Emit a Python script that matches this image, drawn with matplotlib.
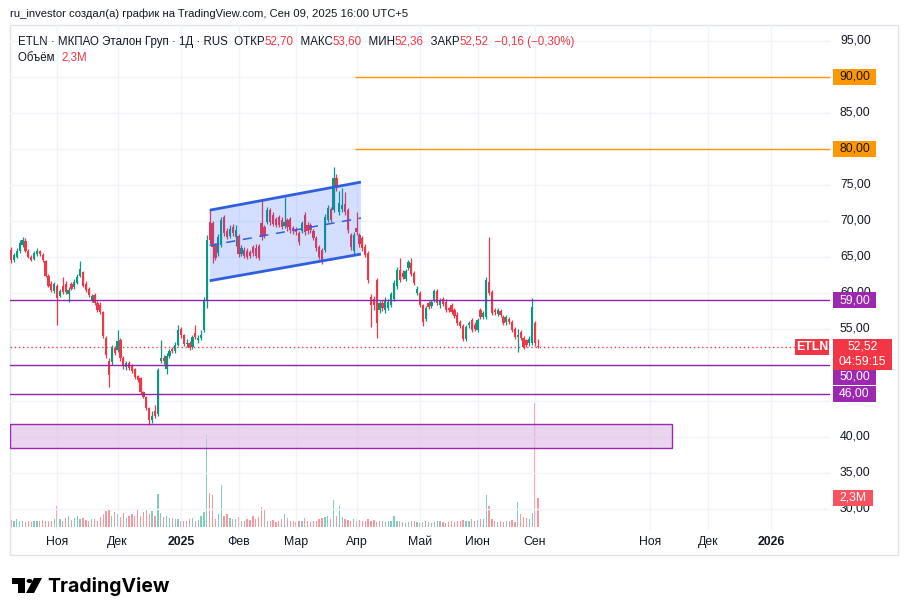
import matplotlib
matplotlib.use("Agg")
import matplotlib.pyplot as plt
from matplotlib.patches import Rectangle, Polygon, Circle
from matplotlib.transforms import blended_transform_factory
import numpy as np

plt.rcParams["font.family"] = ["Liberation Sans", "DejaVu Sans"]

# ETLN daily bars (Oct 2024 - Sep 2025)
opens = [
    66.0, 64.6, 65.0, 65.8, 66.6, 67.2, 65.9, 65.0, 64.7, 65.4,
    65.8, 65.3, 64.5, 62.4, 61.2, 60.3, 61.0, 59.6, 61.0, 61.3,
    59.9, 61.2, 60.8, 61.4, 62.4, 62.9, 61.2, 60.5, 59.0, 59.7,
    58.6, 58.3, 57.3, 53.8, 50.6, 50.4, 52.4, 52.1, 53.5, 51.0,
    49.7, 50.3, 49.9, 49.4, 48.4, 48.2, 46.2, 45.6, 44.0, 42.4,
    43.6, 43.2, 50.6, 51.0, 49.5, 51.3, 52.2, 51.9, 52.8, 55.0,
    54.1, 52.9, 53.0, 52.5, 54.4, 53.4, 53.8, 54.8, 59.0, 69.9,
    69.7, 66.6, 65.6, 66.7, 70.6, 68.6, 67.9, 69.2, 67.8, 67.9,
    65.4, 66.0, 65.9, 65.7, 66.4, 66.2, 66.5, 69.7, 69.2, 69.9,
    71.5, 70.9, 70.3, 70.6, 70.1, 69.3, 70.1, 70.3, 69.0, 68.9,
    68.4, 68.6, 70.8, 69.5, 69.4, 68.6, 67.6, 66.4, 66.0, 66.0,
    70.1, 71.6, 71.5, 76.0, 71.3, 71.6, 72.3, 71.5, 68.0, 65.8,
    69.0, 68.0, 67.6, 66.4, 65.6, 59.4, 59.2, 61.8, 57.6, 58.6,
    57.6, 57.9, 58.3, 59.2, 60.9, 63.2, 62.8, 62.0, 63.5, 64.2,
    62.8, 60.0, 60.0, 58.3, 56.4, 58.6, 58.2, 59.0, 60.3, 58.3,
    59.1, 58.8, 57.9, 58.3, 57.6, 57.0, 56.0, 55.4, 53.6, 55.5,
    56.2, 55.6, 54.9, 57.6, 56.7, 56.7, 61.5, 60.1, 57.6, 57.1,
    57.5, 56.7, 55.9, 56.4, 55.9, 55.0, 53.9, 54.6, 53.7, 53.4,
    53.0, 53.0, 55.8, 52.70,
]
highs = [
    66.4, 65.6, 66.2, 67.4, 67.8, 67.6, 66.1, 65.3, 65.9, 66.2,
    66.0, 65.5, 64.6, 62.6, 61.6, 61.5, 61.2, 60.6, 62.2, 61.6,
    60.8, 61.5, 62.0, 62.6, 64.4, 63.1, 61.6, 60.8, 59.9, 60.0,
    58.9, 58.7, 57.5, 54.0, 50.9, 52.8, 52.7, 54.9, 53.8, 51.3,
    50.6, 50.5, 50.1, 49.6, 48.6, 48.3, 46.4, 45.7, 44.2, 43.6,
    44.5, 49.6, 53.5, 51.4, 51.6, 52.2, 52.5, 53.2, 55.5, 55.3,
    54.3, 53.6, 53.3, 54.2, 55.6, 54.1, 54.9, 59.4, 68.0, 71.5,
    70.0, 67.0, 68.2, 70.6, 70.8, 69.0, 69.4, 69.6, 69.5, 68.2,
    66.6, 66.4, 66.3, 66.0, 66.7, 66.8, 66.8, 72.9, 69.5, 72.0,
    71.8, 71.2, 70.6, 70.9, 70.5, 73.3, 70.4, 70.6, 69.3, 69.2,
    68.6, 70.0, 71.2, 69.8, 69.7, 68.9, 67.9, 66.7, 66.2, 71.0,
    72.2, 71.9, 77.5, 76.5, 74.2, 74.6, 74.0, 71.8, 68.3, 68.5,
    71.2, 68.3, 67.9, 66.8, 65.9, 59.8, 59.6, 62.1, 58.9, 59.0,
    59.4, 59.1, 60.2, 61.8, 63.6, 64.9, 63.2, 63.4, 64.6, 64.9,
    63.1, 61.0, 60.3, 58.5, 58.2, 58.9, 59.0, 60.6, 60.6, 59.3,
    59.4, 59.1, 58.1, 58.6, 57.9, 57.3, 56.3, 55.7, 55.6, 56.1,
    56.5, 55.9, 56.5, 57.9, 57.5, 62.2, 67.8, 60.4, 57.9, 57.9,
    57.8, 57.0, 56.9, 56.7, 56.2, 55.3, 55.0, 54.9, 54.0, 53.6,
    54.0, 59.3, 56.1, 53.60,
]
lows = [
    64.2, 64.3, 64.8, 65.6, 66.4, 65.7, 64.8, 64.5, 64.6, 65.2,
    65.1, 64.3, 62.2, 60.8, 60.1, 60.0, 55.6, 59.4, 59.9, 59.8,
    58.8, 60.4, 60.6, 61.2, 62.2, 60.8, 60.1, 59.4, 58.7, 58.3,
    57.3, 57.1, 53.8, 51.0, 47.0, 50.0, 51.4, 51.8, 50.6, 49.5,
    49.3, 49.3, 48.9, 48.0, 47.6, 46.0, 45.4, 43.8, 41.7, 42.0,
    42.6, 42.9, 50.3, 50.1, 48.8, 51.0, 51.6, 51.7, 52.6, 53.8,
    52.6, 52.5, 52.1, 52.2, 53.6, 53.0, 53.4, 54.6, 57.9, 66.8,
    64.2, 64.6, 65.2, 66.4, 67.9, 67.5, 67.6, 67.9, 66.5, 65.0,
    65.1, 64.9, 64.7, 64.9, 65.2, 64.8, 64.6, 67.4, 67.6, 69.6,
    69.5, 69.3, 69.2, 69.1, 68.9, 69.0, 68.6, 68.4, 68.2, 68.1,
    66.7, 68.3, 68.1, 68.2, 68.3, 67.3, 65.9, 64.7, 64.0, 65.7,
    69.8, 69.8, 71.2, 74.2, 70.9, 71.2, 70.9, 68.4, 66.0, 65.4,
    68.0, 66.4, 65.8, 65.0, 61.4, 55.3, 57.6, 53.8, 57.2, 57.5,
    57.2, 57.6, 58.0, 58.9, 60.6, 61.5, 61.9, 61.7, 63.2, 62.3,
    61.1, 59.7, 58.0, 55.4, 56.1, 57.8, 57.9, 58.8, 58.3, 57.9,
    58.2, 57.3, 57.4, 57.1, 56.5, 55.5, 55.1, 53.3, 53.3, 55.2,
    54.6, 54.7, 54.6, 56.4, 56.4, 56.4, 59.7, 56.9, 57.0, 56.8,
    56.6, 55.5, 55.6, 55.7, 54.6, 53.6, 51.8, 53.4, 52.2, 52.5,
    52.6, 52.8, 52.7, 52.36,
]
closes = [
    64.6, 65.3, 65.8, 66.9, 67.3, 65.9, 65.0, 64.6, 65.6, 65.9,
    65.4, 64.6, 62.4, 61.0, 60.4, 61.2, 59.3, 60.3, 60.2, 60.1,
    60.4, 60.6, 61.5, 62.2, 63.3, 61.0, 60.4, 59.7, 59.6, 58.6,
    57.6, 57.4, 54.0, 51.4, 48.6, 52.4, 51.7, 53.3, 51.0, 49.9,
    50.3, 49.6, 49.2, 48.3, 47.9, 46.3, 45.6, 44.0, 42.4, 42.9,
    42.9, 49.3, 51.0, 50.5, 51.3, 51.9, 51.9, 52.8, 54.9, 54.2,
    52.9, 53.1, 52.4, 53.9, 53.9, 53.8, 54.2, 59.0, 67.4, 67.4,
    66.4, 64.9, 67.8, 70.1, 68.3, 67.8, 68.9, 68.4, 68.8, 65.4,
    66.2, 65.2, 65.0, 65.2, 65.5, 65.1, 64.9, 67.8, 67.9, 71.5,
    69.9, 69.6, 69.5, 69.4, 69.2, 69.9, 69.1, 68.8, 68.6, 68.5,
    67.1, 69.7, 68.5, 68.6, 68.7, 67.6, 66.2, 65.0, 64.6, 70.5,
    71.8, 70.1, 76.0, 74.7, 72.5, 72.2, 71.3, 68.8, 66.4, 68.1,
    68.5, 66.8, 66.2, 65.3, 61.8, 58.3, 58.3, 55.8, 58.6, 57.9,
    59.0, 58.7, 59.8, 61.4, 63.2, 61.8, 62.2, 63.0, 64.3, 62.6,
    61.4, 60.6, 58.3, 56.0, 57.9, 58.1, 58.7, 60.3, 58.6, 59.0,
    58.5, 57.6, 57.7, 57.4, 56.8, 55.8, 55.4, 53.6, 55.3, 55.8,
    54.9, 55.0, 56.2, 56.7, 57.2, 61.8, 60.0, 57.2, 57.3, 57.6,
    56.9, 55.8, 56.6, 56.0, 54.9, 53.9, 54.2, 53.7, 52.5, 52.8,
    53.6, 58.1, 53.0, 52.52,
]
# volume, millions of shares
volumes = [
    0.55, 0.5, 0.6, 0.45, 0.5, 0.4, 0.45, 0.4, 0.45, 0.5,
    0.45, 0.55, 0.5, 0.5, 0.45, 0.6, 1.7, 0.6, 0.5, 0.7,
    0.85, 0.55, 0.7, 0.9, 0.6, 0.75, 0.55, 0.5, 0.6, 0.65,
    0.45, 0.8, 1.0, 1.3, 1.4, 0.9, 1.15, 1.0, 0.8, 1.1,
    0.75, 0.9, 1.0, 0.85, 1.45, 0.9, 1.2, 1.35, 1.0, 1.3,
    0.9, 2.6, 1.1, 0.8, 0.9, 0.7, 0.75, 0.6, 0.65, 0.5,
    0.45, 0.5, 0.6, 0.7, 0.5, 0.55, 0.9, 1.2, 7.3, 2.7,
    2.5, 0.6, 1.0, 3.3, 0.9, 1.0, 0.7, 0.6, 0.65, 0.8,
    0.5, 0.45, 0.6, 0.55, 0.9, 0.6, 0.8, 1.6, 1.4, 0.5,
    0.45, 0.55, 0.4, 0.45, 0.6, 1.0, 0.7, 0.5, 0.45, 0.4,
    0.45, 0.5, 0.7, 0.45, 0.4, 0.45, 0.5, 0.6, 0.7, 0.8,
    0.9, 0.6, 2.1, 0.9, 1.7, 0.8, 0.6, 0.55, 0.5, 0.6,
    0.45, 0.55, 0.5, 0.45, 0.6, 0.5, 0.55, 0.4, 0.45, 0.5,
    0.4, 0.45, 0.5, 0.9, 0.5, 0.45, 0.4, 0.35, 0.4, 0.45,
    0.5, 0.4, 0.35, 0.4, 0.45, 0.4, 0.35, 0.4, 0.45, 0.5,
    0.4, 0.35, 0.4, 0.45, 0.4, 0.5, 0.45, 0.55, 0.5, 0.45,
    0.6, 0.5, 0.55, 0.65, 0.6, 2.5, 1.7, 0.6, 0.5, 0.4,
    0.45, 0.4, 0.5, 0.45, 0.55, 0.4, 2.0, 1.0, 0.8, 0.7,
    0.6, 1.1, 9.8, 2.3,
]
assert len(opens) == len(highs) == len(lows) == len(closes) == len(volumes)

# first trading bar of each month (bar index) and its label
month_starts = [16, 37, 59, 79, 99, 120, 142, 162, 182, 222, 242, 264]
month_names = ["Ноя", "Дек", "2025", "Фев", "Мар", "Апр", "Май", "Июн", "Сен", "Ноя", "Дек", "2026"]
price_ticks = [30, 35, 40, 45, 50, 55, 60, 65, 70, 75, 80, 85, 90, 95]
hidden_ticks = [45, 50]  # covered by the level labels on the scale

targets = [90, 80]
supports = [59, 50, 46]
zone_lo, zone_hi = 38.5, 41.8
chan_x = [69, 121.5]
chan_top = [71.5, 75.4]
chan_mid = [66.6, 70.4]
chan_bot = [61.7, 65.4]
last_close = 52.52
last_vol = 2.3

GREEN, RED = "#089981", "#f23645"
PURPLE, ORANGE, BLUE = "#9c27b0", "#ff9800", "#2962ff"
TXT = "#131722"

W, H = 908, 616
fig = plt.figure(figsize=(W / 100, H / 100), dpi=100)
fig.patch.set_facecolor("white")


def fx(x):
    return x / W


def fy(y):
    return 1 - y / H


ax_l, ax_r, ax_t, ax_b = 10, 830, 25, 530
ax = fig.add_axes([fx(ax_l), fy(ax_b), (ax_r - ax_l) / W, (ax_b - ax_t) / H])
ax2 = ax.twinx()
ax.set_zorder(ax2.get_zorder() + 1)
ax.patch.set_visible(False)

x_lo, x_hi = -0.35, 284.4
ax.set_xlim(x_lo, x_hi)
ax.set_ylim(27.08, 97.22)
ax2.set_ylim(-0.24, 39.8)

for a in (ax, ax2):
    for s in a.spines.values():
        s.set_visible(False)
    a.set_yticks([])

# grid
for p in price_ticks:
    ax.axhline(p, color="#f0f3fa", lw=1, zorder=0)
for m in month_starts:
    ax.axvline(m, color="#f0f3fa", lw=1, zorder=0)

idx = np.arange(len(closes))
o, h, l, c = map(np.array, (opens, highs, lows, closes))
up = c >= o
cols = np.where(up, GREEN, RED)

# volume
ax2.bar(idx, volumes, width=0.45, color=np.where(up, "#80ccbf", "#f7979f"), linewidth=0)

# candles
ax.vlines(idx, l, h, colors=cols, lw=0.9, zorder=3)
ax.bar(idx, np.maximum(np.abs(c - o), 0.14), bottom=np.minimum(o, c), width=0.78,
       color=cols, linewidth=0, zorder=3)

# support zone
ax.add_patch(Rectangle((x_lo, zone_lo), 229.5 - x_lo, zone_hi - zone_lo, fc="#e1bee7",
                       alpha=0.65, ec="none", zorder=2))
ax.add_patch(Rectangle((x_lo, zone_lo), 229.5 - x_lo, zone_hi - zone_lo, fc="none",
                       ec=PURPLE, lw=1, zorder=4))

# levels
for p in supports:
    ax.axhline(p, color="#8e24aa", lw=1, zorder=4)
ax.hlines(targets, 119.4, x_hi, color=ORANGE, lw=1, zorder=4)
ax.hlines(last_close, x_lo, 272.5, color=RED, lw=1, linestyles=(0, (1, 2)), zorder=4)

# channel
ax.add_patch(Polygon([(chan_x[0], chan_bot[0]), (chan_x[0], chan_top[0]),
                      (chan_x[1], chan_top[1]), (chan_x[1], chan_bot[1])],
                     closed=True, fc=BLUE, alpha=0.2, ec="none", zorder=5))
ax.plot(chan_x, chan_top, color="#2f5fe0", lw=2, zorder=6, solid_capstyle="butt")
ax.plot(chan_x, chan_bot, color="#2f5fe0", lw=2, zorder=6, solid_capstyle="butt")
ax.plot(chan_x, chan_mid, color="#2f5fe0", lw=1.1, ls=(0, (6, 5)), zorder=6)

# time axis
ax.set_xticks(month_starts)
ax.set_xticklabels(month_names, fontsize=8.8, color=TXT)
ax.tick_params(axis="x", length=0, pad=4)
for t in ax.get_xticklabels():
    if t.get_text() in ("2025", "2026"):
        t.set_fontweight("bold")

# price scale
ptrans = blended_transform_factory(fig.transFigure, ax.transData)
for p in price_ticks:
    if p in hidden_ticks:
        continue
    fig.text(fx(840), p, f"{p:.2f}".replace(".", ","), transform=ptrans, fontsize=8.8,
             color=TXT, va="center", ha="left")


def py(p, a=ax):
    return H - a.transData.transform((0, p))[1]


def box(x0, yc, w, hgt, fc, lines, tc, bold=False):
    fig.add_artist(Rectangle((fx(x0), fy(yc + hgt / 2)), w / W, hgt / H, transform=fig.transFigure,
                             fc=fc, ec="none", zorder=10))
    n = len(lines)
    for k, s in enumerate(lines):
        yy = yc + (k - (n - 1) / 2) * 15
        fig.text(fx(x0 + w / 2), fy(yy), s, fontsize=8.8, color=tc, ha="center", va="center",
                 zorder=11, fontweight="bold" if bold else "normal")


for p in targets:
    box(833, py(p), 43, 16, ORANGE, [f"{p:.2f}".replace(".", ",")], TXT)
box(833, py(59), 43, 16, PURPLE, ["59,00"], "white")
box(833, py(50) + 12, 43, 16, PURPLE, ["50,00"], "white")
box(833, py(46), 43, 16, PURPLE, ["46,00"], "white")
box(795, py(last_close), 34, 16, RED, ["ETLN"], "white", bold=True)
box(833, py(last_close) + 7.5, 59, 31, RED, ["52,52", "04:59:15"], "white")
box(833, py(last_vol, ax2), 40, 16, "#f7525f", ["2,3M"], "white")

# pane border
fig.add_artist(Rectangle((fx(10), fy(555)), 888 / W, 530 / H, transform=fig.transFigure,
                         fc="none", ec="#e0e3eb", lw=1))

# header
fig.text(fx(10), fy(14), "ru_investor создал(а) график на TradingView.com, Сен 09, 2025 16:00 UTC+5",
         fontsize=8.1, color=TXT, va="center")

renderer = fig.canvas.get_renderer()


def pieces(x, y, parts):
    for s, col in parts:
        t = fig.text(fx(x), fy(y), s, fontsize=8.3, color=col, va="center", ha="left")
        x += t.get_window_extent(renderer=renderer).width


pieces(18, 42, [("ETLN · МКПАО Эталон Груп · 1Д · RUS  ОТКР", TXT), ("52,70", RED),
                ("  МАКС", TXT), ("53,60", RED), ("  МИН", TXT), ("52,36", RED),
                ("  ЗАКР", TXT), ("52,52", RED), ("  −0,16 (−0,30%)", RED)])
pieces(18, 58, [("Объём  ", TXT), ("2,3M", RED)])

# TradingView logo
fig.add_artist(Polygon([(fx(12), fy(578)), (fx(25), fy(578)), (fx(25), fy(593)), (fx(18), fy(593)),
                        (fx(18), fy(584)), (fx(12), fy(584))], closed=True,
                       transform=fig.transFigure, fc="black", ec="none"))
fig.add_artist(Circle((fx(29.5), fy(581)), 3 / W, transform=fig.transFigure, fc="black", ec="none"))
fig.add_artist(Polygon([(fx(34), fy(578)), (fx(42), fy(578)), (fx(34), fy(593)), (fx(26), fy(593))],
                       closed=True, transform=fig.transFigure, fc="black", ec="none"))
fig.text(fx(47), fy(586), "TradingView", fontsize=14, fontweight="bold", color="black",
         va="center", ha="left", family=["Inter", "DejaVu Sans"])

fig.savefig("out.png", dpi=100, facecolor="white")
